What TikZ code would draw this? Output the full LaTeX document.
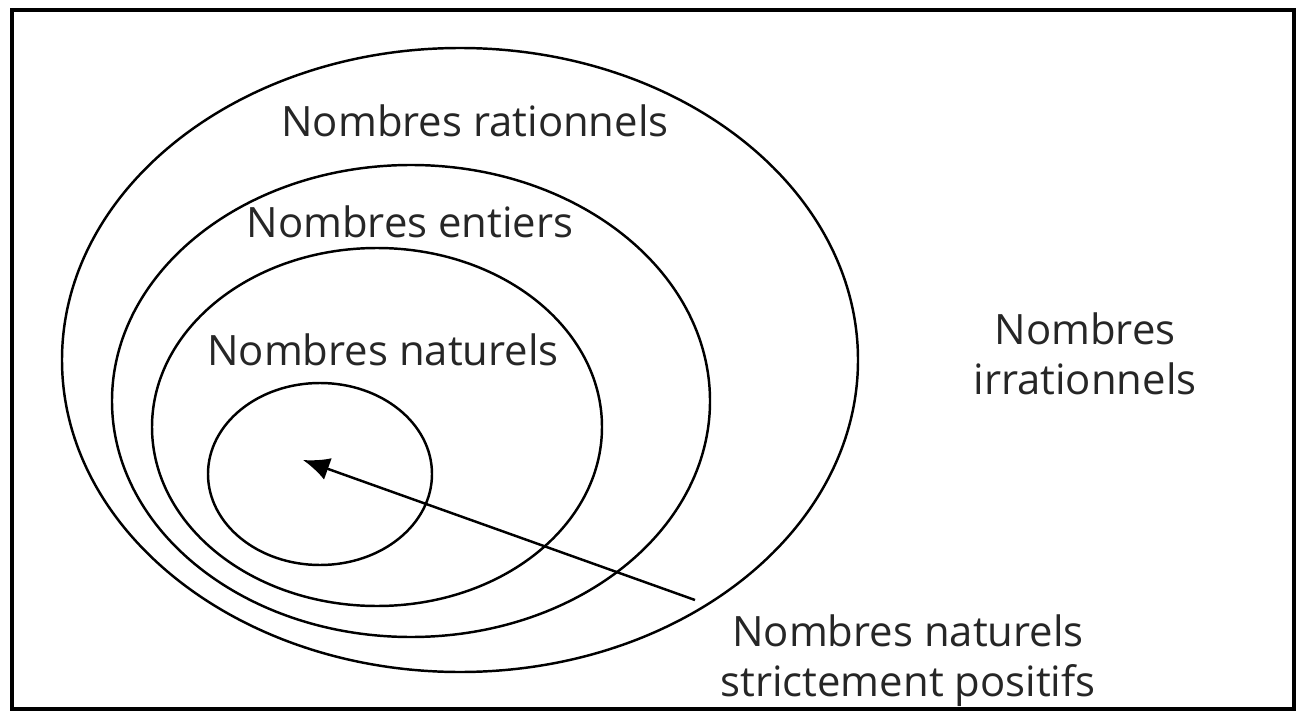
\documentclass[tikz,border=0pt]{standalone}
\usepackage{fontspec}
\setmainfont{Open Sans}
\usetikzlibrary{arrows.meta}

\begin{document}
\begin{tikzpicture}[x=0.02cm, y=-0.02cm,
    set/.style={line width=1.4pt},
    lbl/.style={font=\fontsize{23.8}{28.5}\selectfont, text=black!85, align=center, inner sep=0pt}]

\useasboundingbox (0,0) rectangle (1299,713);

% Frame
\draw[line width=2.2pt] (12,10) rectangle (1294,709);

% Sets
\draw[set] (460,360) ellipse [x radius=398, y radius=312];
\draw[set] (411,401) ellipse [x radius=299, y radius=236];
\draw[set] (377,427) ellipse [x radius=225, y radius=179];
\draw[set] (320,474) ellipse [x radius=112, y radius=91];

% Labels
\node[lbl] (rat) at (475,121) {Nombres rationnels};
\node[lbl] (ent) at (410,222) {Nombres entiers};
\node[lbl] (nat) at (383,350) {Nombres naturels};
\node[lbl] (irr) at (1085,354) {Nombres\\irrationnels};
\node[lbl] (pos) at (908,661) {Nombres naturels\\strictement positifs};

% Arrow
\coordinate (tip) at (303,460);
\coordinate (tail) at (695,600);
\draw[set, -{Latex[length=15pt, width=13pt]}] (tail) -- (tip);

\end{tikzpicture}
\end{document}
